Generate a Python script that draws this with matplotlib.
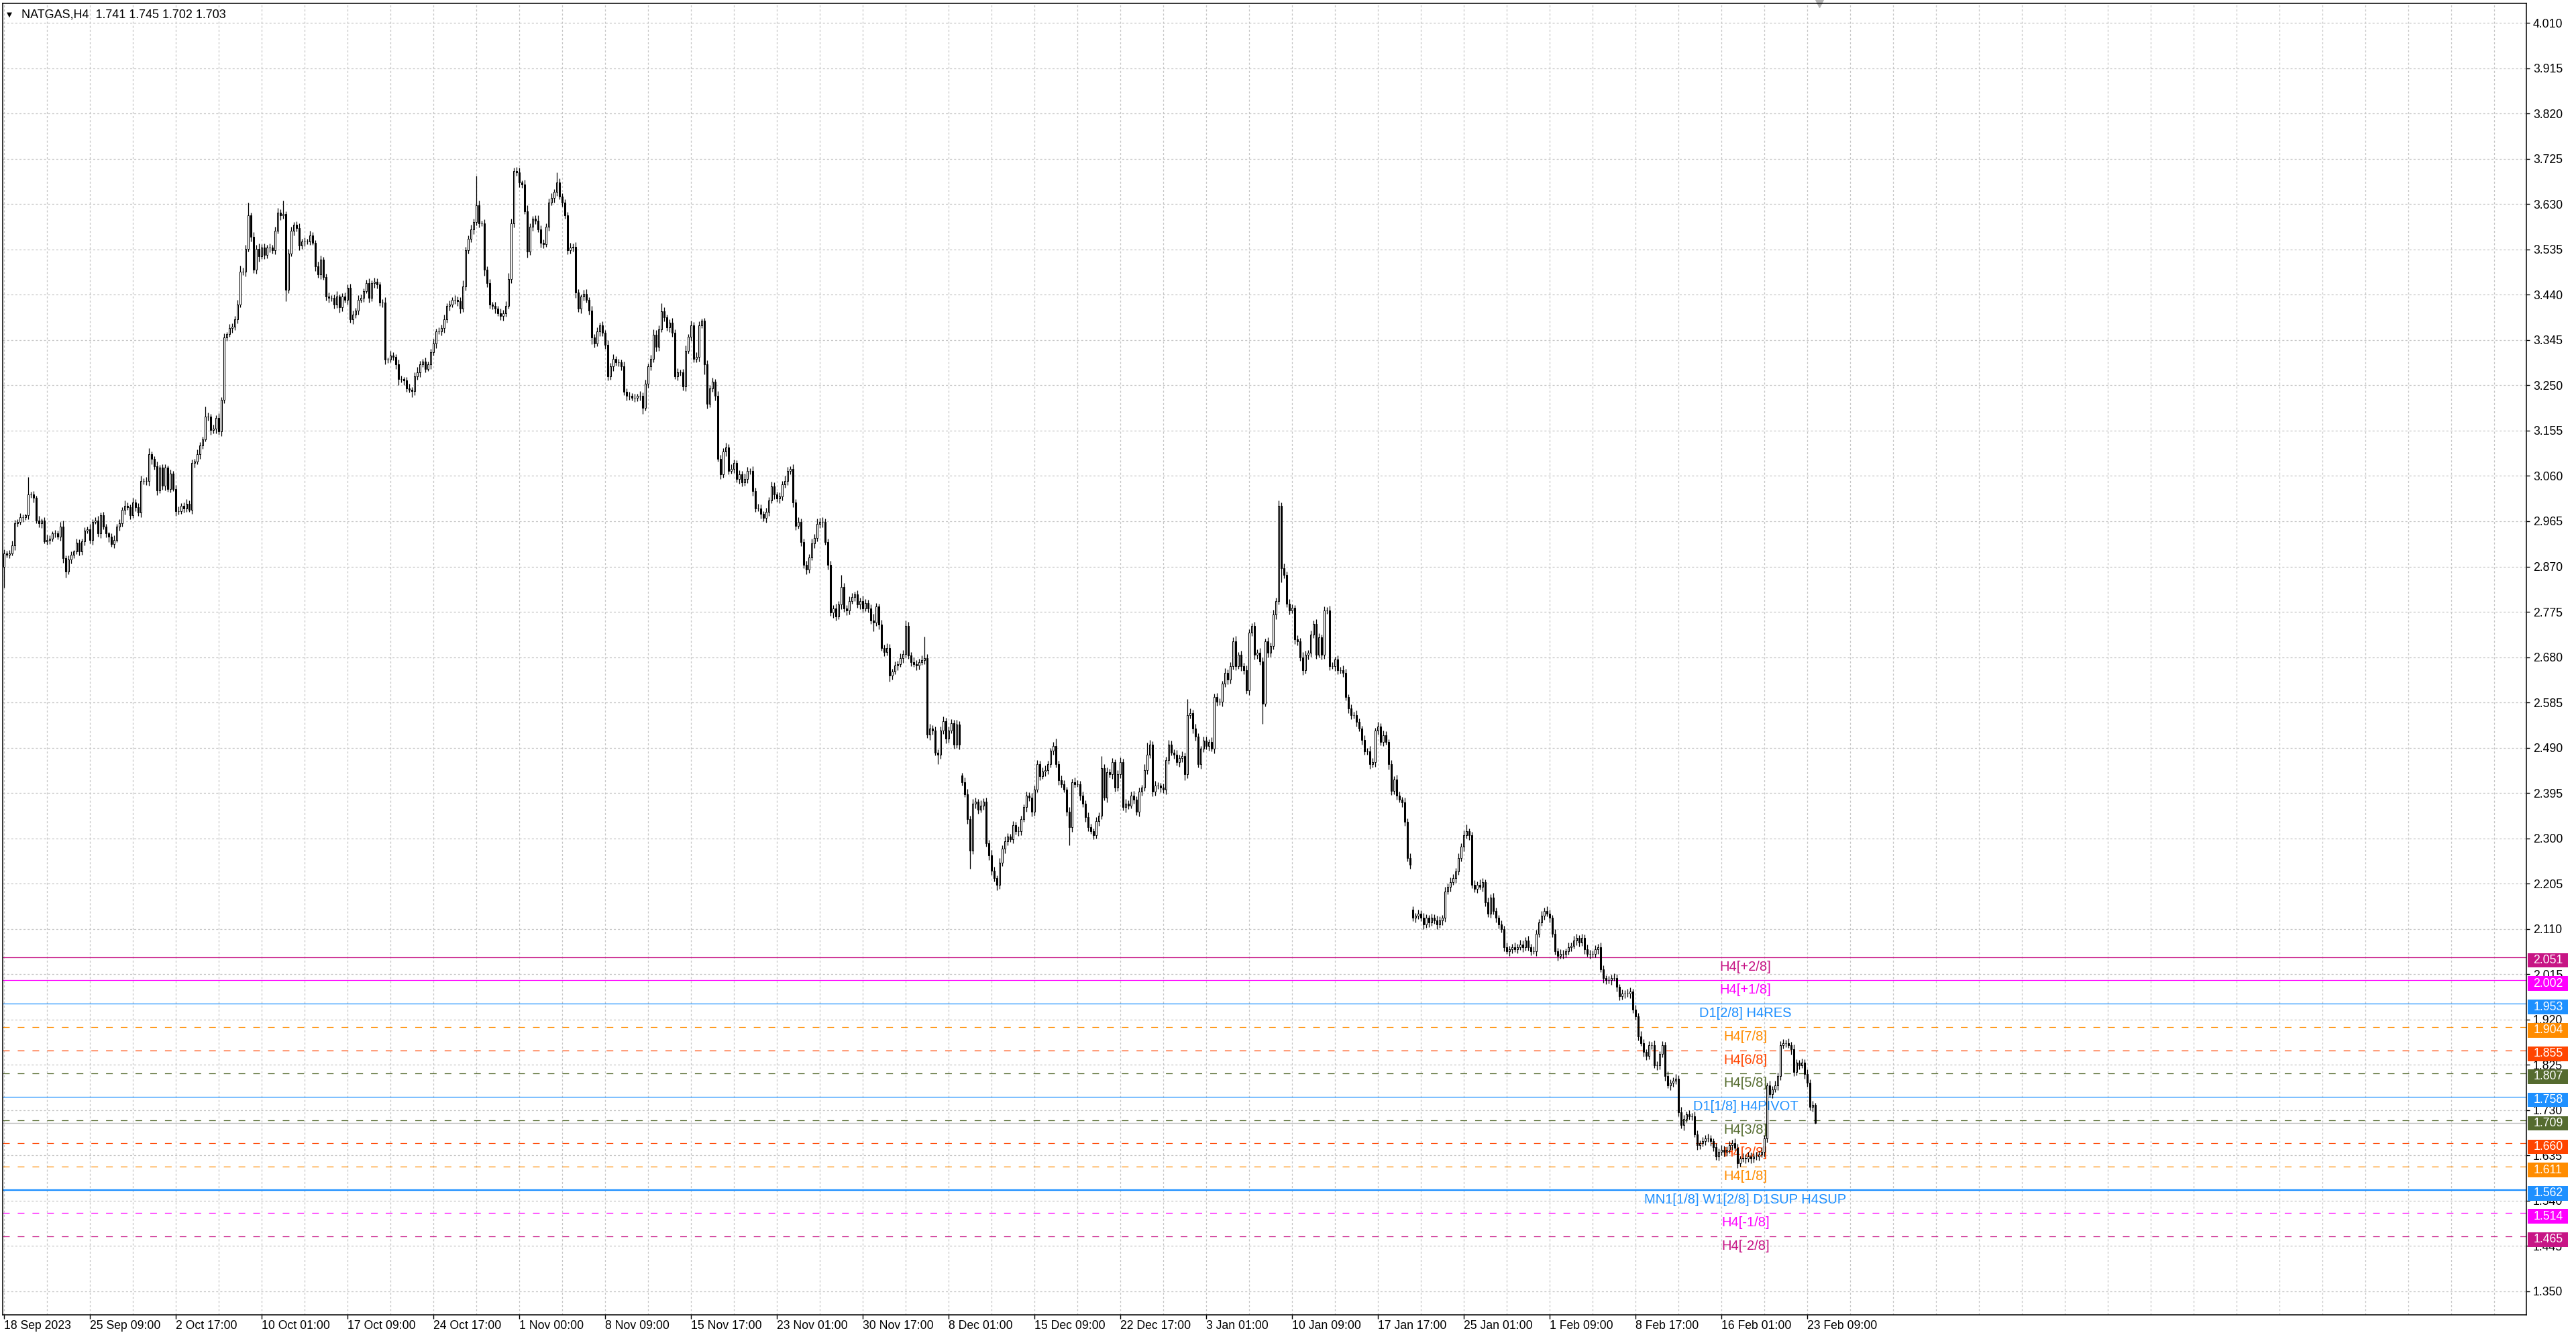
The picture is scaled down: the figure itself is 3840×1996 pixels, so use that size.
import numpy as np
import matplotlib
matplotlib.use('Agg')
import matplotlib.pyplot as plt
from matplotlib.patches import Rectangle
from matplotlib.transforms import blended_transform_factory

plt.rcParams['font.family'] = ['Liberation Sans', 'DejaVu Sans']
plt.rcParams['lines.scale_dashes'] = False

####################
## DATA (H4 bars) ##
####################

# closes, 18 Sep -> 3 Nov 2023
close_a = [
    2.898, 2.895, 2.898, 2.914, 2.961, 2.964, 2.973, 2.973, 2.977, 3.021,
    3.021, 3.014, 2.967, 2.961, 2.967, 2.923, 2.926, 2.929, 2.939, 2.939,
    2.932, 2.954, 2.888, 2.860, 2.885, 2.895, 2.901, 2.920, 2.901, 2.923,
    2.945, 2.948, 2.926, 2.964, 2.967, 2.939, 2.977, 2.954, 2.939, 2.932,
    2.917, 2.926, 2.954, 2.961, 2.989, 2.998, 2.995, 2.977, 3.005, 2.995,
    2.983, 3.049, 3.049, 3.049, 3.105, 3.096, 3.080, 3.030, 3.077, 3.039,
    3.077, 3.033, 3.065, 3.033, 2.986, 2.986, 2.998, 2.992, 3.002, 2.989,
    3.087, 3.090, 3.105, 3.124, 3.137, 3.184, 3.184, 3.156, 3.159, 3.181,
    3.153, 3.219, 3.351, 3.357, 3.370, 3.373, 3.389, 3.420, 3.489, 3.489,
    3.536, 3.606, 3.561, 3.492, 3.536, 3.521, 3.539, 3.524, 3.539, 3.539,
    3.533, 3.574, 3.612, 3.606, 3.609, 3.451, 3.527, 3.574, 3.587, 3.580,
    3.543, 3.552, 3.552, 3.552, 3.565, 3.549, 3.499, 3.483, 3.514, 3.477,
    3.436, 3.433, 3.433, 3.420, 3.436, 3.414, 3.436, 3.429, 3.455, 3.389,
    3.398, 3.407, 3.429, 3.433, 3.448, 3.464, 3.433, 3.464, 3.467, 3.461,
    3.423, 3.423, 3.304, 3.304, 3.313, 3.310, 3.294, 3.263, 3.263, 3.260,
    3.244, 3.241, 3.238, 3.269, 3.278, 3.294, 3.300, 3.285, 3.294, 3.319,
    3.338, 3.363, 3.363, 3.370, 3.389, 3.417, 3.420, 3.429, 3.429, 3.426,
    3.411, 3.458, 3.533, 3.558, 3.577, 3.593, 3.628, 3.590, 3.590, 3.492,
    3.464, 3.420, 3.417, 3.411, 3.401, 3.395, 3.401, 3.417, 3.473, 3.590,
    3.700, 3.697, 3.675, 3.672, 3.615, 3.530, 3.583, 3.599, 3.596, 3.577,
    3.549, 3.546, 3.583, 3.634, 3.643, 3.656, 3.675, 3.646, 3.634, 3.606,
    3.533, 3.539, 3.541, 3.445, 3.411, 3.436, 3.442, 3.429, 3.407, 3.351,
    3.338, 3.363, 3.376,
]
# wick lengths above / below the body, in thousandths
wick_up_a = [
    8, 5, 6, 10, 7, 5, 9, 6, 4, 37,
    6, 8, 5, 9, 4, 7, 11, 6, 5, 8,
    6, 9, 12, 5, 8, 6, 4, 9, 7, 5,
    8, 6, 11, 5, 7, 9, 6, 8, 5, 4,
    7, 9, 5, 8, 6, 10, 7, 5, 9, 6,
    8, 12, 6, 9, 14, 7, 5, 10, 6, 8,
    7, 5, 9, 6, 8, 10, 5, 7, 9, 6,
    8, 6, 10, 7, 5, 22, 9, 6, 8, 7,
    10, 6, 8, 5, 9, 7, 6, 10, 12, 8,
    9, 27, 6, 10, 8, 12, 7, 9, 6, 8,
    5, 9, 10, 7, 28, 6, 9, 8, 5, 7,
    10, 6, 8, 5, 9, 7, 6, 10, 8, 5,
    7, 9, 6, 8, 11, 5, 7, 9, 6, 8,
    9, 6, 10, 7, 5, 8, 11, 6, 9, 7,
    6, 8, 12, 5, 9, 7, 6, 10, 8, 5,
    7, 9, 6, 8, 10, 7, 5, 9, 6, 8,
    10, 6, 8, 7, 9, 5, 8, 6, 10, 7,
    9, 12, 8, 6, 10, 7, 62, 9, 6, 8,
    7, 9, 5, 8, 6, 10, 7, 9, 12, 10,
    6, 8, 10, 5, 9, 12, 7, 6, 8, 10,
    9, 7, 6, 8, 10, 5, 22, 9, 7, 6,
    8, 10, 6, 9, 7, 5, 8, 10, 6, 9,
    7, 9, 6,
]
wick_dn_a = [
    44, 6, 8, 5, 9, 7, 6, 10, 5, 8,
    7, 9, 6, 8, 10, 5, 7, 9, 6, 8,
    5, 8, 10, 13, 6, 9, 7, 5, 8, 6,
    9, 6, 8, 10, 5, 7, 9, 6, 8, 10,
    6, 8, 5, 9, 7, 10, 6, 8, 5, 9,
    7, 10, 6, 8, 9, 12, 7, 10, 6, 8,
    9, 6, 8, 5, 10, 7, 6, 9, 8, 5,
    8, 10, 6, 9, 7, 5, 8, 10, 6, 9,
    7, 9, 6, 8, 5, 10, 7, 9, 6, 8,
    10, 6, 9, 7, 8, 12, 6, 9, 7, 10,
    6, 8, 5, 9, 7, 25, 8, 6, 10, 7,
    9, 7, 10, 6, 8, 5, 9, 7, 10, 6,
    8, 10, 6, 9, 7, 12, 8, 6, 9, 7,
    10, 7, 9, 6, 8, 5, 10, 7, 9, 8,
    6, 9, 10, 7, 5, 8, 9, 13, 7, 10,
    8, 6, 13, 9, 7, 10, 6, 8, 5, 9,
    7, 10, 6, 8, 9, 7, 10, 6, 8, 9,
    10, 7, 9, 6, 8, 10, 7, 9, 6, 12,
    8, 9, 7, 10, 6, 8, 9, 7, 6, 8,
    9, 7, 10, 8, 6, 12, 7, 9, 8, 6,
    10, 8, 6, 9, 7, 10, 8, 6, 9, 7,
    8, 6, 9, 12, 7, 10, 8, 6, 9, 15,
    8, 6, 9,
]

# 3 Nov -> 5 Jan
close_b = [
    3.360, 3.335, 3.269, 3.290, 3.306, 3.298, 3.298, 3.290, 3.236, 3.228,
    3.228, 3.224, 3.224, 3.228, 3.228, 3.203, 3.253, 3.290, 3.306, 3.356,
    3.331, 3.368, 3.405, 3.393, 3.372, 3.381, 3.360, 3.269, 3.277, 3.277,
    3.248, 3.323, 3.352, 3.376, 3.306, 3.310, 3.376, 3.385, 3.294, 3.211,
    3.244, 3.257, 3.228, 3.096, 3.063, 3.112, 3.120, 3.071, 3.075, 3.087,
    3.054, 3.063, 3.046, 3.054, 3.071, 3.071, 3.029, 2.992, 2.992, 2.980, 2.972,
    2.984, 3.009, 3.038, 3.021, 3.013, 3.017, 3.042, 3.050, 3.071, 3.075,
    3.005, 2.955, 2.963, 2.922, 2.873, 2.864, 2.889, 2.918, 2.930, 2.959,
    2.963, 2.963, 2.922, 2.873, 2.773, 2.782, 2.765, 2.790, 2.827, 2.782,
    2.778, 2.798, 2.806, 2.811, 2.790, 2.798, 2.782, 2.794, 2.782, 2.757, 2.753,
    2.786, 2.749, 2.699, 2.691, 2.699, 2.641, 2.650, 2.662, 2.666, 2.678,
    2.687, 2.745, 2.683, 2.670, 2.666, 2.662, 2.670, 2.674, 2.678, 2.517, 2.530,
    2.526, 2.480, 2.476, 2.526, 2.546, 2.509, 2.526, 2.542, 2.497, 2.538,
    2.497, 2.418, 2.393, 2.340, 2.274, 2.373, 2.377, 2.360, 2.369, 2.377,
    2.290, 2.265, 2.232, 2.216, 2.203, 2.249, 2.278, 2.294, 2.303, 2.298,
    2.327, 2.315, 2.315, 2.340, 2.365, 2.389, 2.385, 2.356, 2.402, 2.455,
    2.431, 2.440, 2.443, 2.455, 2.484, 2.493, 2.455, 2.422, 2.414, 2.402, 2.356,
    2.323, 2.418, 2.414, 2.414, 2.389, 2.373, 2.344, 2.323, 2.315, 2.307,
    2.336, 2.348, 2.447, 2.385, 2.439, 2.435, 2.460, 2.406, 2.435, 2.460,
    2.365, 2.373, 2.369, 2.390, 2.381, 2.356, 2.398, 2.406, 2.443, 2.476, 2.497,
    2.398, 2.410, 2.410, 2.406, 2.402, 2.464, 2.497, 2.480, 2.476, 2.460,
    2.468, 2.472, 2.435, 2.559, 2.563, 2.530, 2.513, 2.455, 2.488, 2.505,
]
wick_up_b = [
    8, 6, 10, 7, 9, 5, 8, 6, 10, 7,
    9, 6, 8, 5, 10, 7, 9, 6, 8, 12,
    10, 8, 17, 9, 6, 8, 10, 7, 9, 6,
    8, 10, 6, 9, 7, 10, 8, 5, 6, 9,
    7, 9, 6, 10, 8, 6, 9, 7, 10, 8,
    6, 9, 7, 11, 8, 5, 9, 7, 10, 8, 6,
    9, 7, 10, 8, 6, 9, 7, 11, 8, 5,
    9, 7, 10, 8, 6, 9, 7, 10, 8, 12,
    9, 10, 8, 6, 9, 7, 10, 8, 25, 9,
    7, 10, 8, 6, 9, 7, 11, 8, 6, 9, 14,
    8, 6, 9, 7, 10, 8, 6, 9, 7, 10,
    8, 12, 9, 7, 10, 8, 6, 9, 45, 8, 10,
    7, 9, 6, 8, 10, 7, 9, 8, 6, 10,
    8, 6, 9, 10, 7, 9, 8, 6, 10, 7,
    9, 7, 10, 8, 6, 9, 7, 10, 8, 6,
    9, 7, 10, 8, 6, 9, 7, 10, 8, 9,
    7, 9, 10, 8, 6, 9, 16, 7, 10, 8, 6,
    9, 7, 10, 8, 6, 9, 7, 10, 8, 6,
    9, 7, 25, 8, 10, 7, 9, 6, 8, 10,
    7, 9, 6, 8, 10, 7, 9, 6, 12, 24, 9,
    7, 10, 8, 6, 9, 7, 10, 8, 6, 9,
    7, 10, 8, 33, 9, 7, 10, 8, 6, 9,
]
wick_dn_b = [
    6, 9, 8, 7, 10, 6, 8, 9, 7, 10,
    8, 6, 9, 7, 10, 13, 6, 8, 9, 7,
    10, 8, 6, 9, 7, 10, 8, 6, 9, 7,
    8, 10, 6, 9, 7, 8, 10, 6, 21, 9,
    7, 8, 10, 6, 9, 7, 10, 8, 6, 9,
    7, 10, 8, 6, 9, 7, 10, 8, 6, 9, 7,
    10, 8, 6, 9, 7, 10, 8, 6, 9, 7,
    10, 8, 6, 9, 7, 10, 8, 6, 9, 7,
    8, 10, 6, 9, 7, 10, 8, 6, 9, 7,
    10, 8, 6, 9, 7, 10, 8, 6, 9, 7, 19,
    8, 10, 6, 9, 7, 12, 8, 6, 9, 7,
    10, 8, 6, 9, 7, 10, 8, 6, 9, 7, 10,
    8, 6, 21, 9, 7, 10, 8, 6, 9, 7,
    10, 8, 6, 9, 38, 7, 10, 8, 6, 9,
    7, 10, 8, 6, 12, 9, 7, 10, 8, 6,
    9, 7, 10, 8, 6, 9, 7, 10, 8, 6,
    9, 7, 10, 8, 6, 9, 7, 10, 8, 6, 9,
    37, 10, 8, 6, 9, 7, 10, 8, 6, 9,
    7, 10, 8, 6, 9, 7, 10, 8, 6, 9,
    7, 10, 8, 6, 9, 7, 10, 8, 6, 9, 7,
    10, 8, 6, 9, 7, 10, 8, 6, 9, 7,
    10, 8, 13, 9, 7, 10, 8, 6, 9, 7,
]

# 5 Jan -> 23 Feb 2024
close_c = [
    2.493, 2.502, 2.488, 2.596, 2.586, 2.586, 2.624, 2.647, 2.633, 2.661,
    2.713, 2.661, 2.685, 2.661, 2.652, 2.610, 2.731, 2.745, 2.685, 2.689,
    2.671, 2.582, 2.713, 2.689, 2.703, 2.769, 2.797, 2.998, 2.867, 2.853,
    2.792, 2.778, 2.783, 2.717, 2.713, 2.680, 2.652, 2.685, 2.689, 2.727,
    2.750, 2.685, 2.722, 2.685, 2.778, 2.778, 2.661, 2.661, 2.675, 2.652,
    2.652, 2.647, 2.596, 2.572, 2.558, 2.558, 2.544, 2.530, 2.507, 2.483, 2.483,
    2.455, 2.460, 2.526, 2.535, 2.502, 2.516, 2.502, 2.455, 2.399, 2.423,
    2.390, 2.381, 2.376, 2.334, 2.259, 2.245, 2.133, 2.138, 2.142, 2.133,
    2.119, 2.133, 2.124, 2.133, 2.128, 2.119, 2.128, 2.133, 2.189, 2.198, 2.208,
    2.217, 2.231, 2.259, 2.282, 2.306, 2.315, 2.306, 2.203, 2.194, 2.203,
    2.198, 2.208, 2.166, 2.142, 2.175, 2.147, 2.133, 2.119, 2.110, 2.072,
    2.063, 2.067, 2.072, 2.068, 2.072, 2.077, 2.072, 2.086, 2.072, 2.063, 2.063,
    2.100, 2.124, 2.138, 2.147, 2.142, 2.133, 2.100, 2.063, 2.053, 2.058,
    2.058, 2.063, 2.072, 2.075, 2.086, 2.091, 2.081, 2.091, 2.067, 2.058, 2.058,
    2.058, 2.067, 2.072, 2.025, 2.007, 2.002, 2.002, 2.007, 2.007, 1.988,
    1.969, 1.974, 1.974, 1.974, 1.979, 1.941, 1.927, 1.885, 1.871, 1.852,
    1.843, 1.866, 1.866, 1.824, 1.824, 1.848, 1.866, 1.801, 1.782, 1.787,
    1.792, 1.796, 1.726, 1.698, 1.712, 1.721, 1.717, 1.717, 1.679, 1.656,
    1.661, 1.665, 1.670, 1.670, 1.665, 1.652, 1.633, 1.642, 1.647, 1.642, 1.647,
    1.656, 1.661, 1.651, 1.619, 1.628, 1.630, 1.628, 1.633, 1.628, 1.633, 1.633,
    1.637, 1.642, 1.670, 1.782, 1.764, 1.773, 1.782, 1.801, 1.866, 1.871,
    1.871, 1.866, 1.857, 1.810, 1.829, 1.824, 1.829, 1.806, 1.787, 1.736,
    1.741, 1.703,
]
wick_up_c = [
    8, 6, 10, 7, 9, 8, 6, 10, 7, 9,
    8, 12, 6, 9, 7, 10, 8, 6, 9, 7,
    10, 8, 6, 9, 7, 10, 8, 11, 6, 9,
    7, 10, 8, 6, 9, 7, 11, 8, 6, 9,
    7, 10, 8, 5, 9, 7, 10, 8, 6, 9,
    7, 10, 8, 6, 9, 7, 10, 8, 6, 9, 7,
    10, 8, 6, 9, 7, 10, 8, 6, 9, 7,
    10, 8, 6, 9, 7, 10, 8, 6, 9, 7,
    10, 8, 6, 9, 7, 10, 8, 6, 9, 7, 10,
    8, 6, 9, 7, 10, 14, 6, 8, 9, 7,
    10, 8, 6, 9, 7, 10, 8, 6, 9, 7,
    10, 8, 6, 9, 7, 10, 8, 6, 9, 7, 10,
    8, 6, 9, 7, 10, 8, 6, 9, 7, 10,
    8, 6, 9, 7, 10, 8, 6, 9, 7, 10, 8,
    6, 9, 7, 10, 8, 6, 9, 7, 10, 8,
    6, 9, 7, 10, 8, 6, 9, 7, 10, 8,
    6, 9, 7, 10, 8, 6, 9, 7, 10, 8,
    6, 9, 7, 10, 8, 6, 9, 7, 10, 8,
    6, 9, 7, 10, 8, 6, 9, 7, 10, 8, 6,
    9, 7, 10, 8, 6, 9, 7, 10, 8, 6, 9,
    7, 10, 8, 6, 9, 7, 10, 8, 9, 8,
    6, 9, 7, 10, 8, 6, 9, 7, 10, 8,
    9, 4,
]
wick_dn_c = [
    7, 9, 6, 10, 8, 7, 9, 6, 10, 8,
    7, 9, 6, 10, 8, 7, 9, 6, 10, 8,
    7, 42, 6, 10, 8, 7, 9, 6, 30, 8,
    7, 9, 6, 10, 8, 7, 9, 6, 10, 8,
    7, 9, 6, 10, 8, 7, 9, 6, 10, 8,
    7, 9, 6, 10, 8, 7, 9, 6, 10, 8, 7,
    9, 6, 10, 8, 7, 9, 6, 10, 8, 7,
    9, 6, 10, 8, 7, 9, 6, 10, 8, 7,
    9, 6, 10, 8, 7, 9, 6, 10, 8, 7, 9,
    6, 10, 8, 7, 9, 6, 10, 8, 7, 9,
    6, 10, 8, 7, 9, 6, 10, 8, 7, 9,
    6, 10, 8, 7, 9, 6, 10, 8, 7, 9, 6,
    10, 8, 7, 9, 6, 10, 8, 7, 9, 6,
    10, 8, 7, 9, 6, 10, 8, 7, 9, 6, 10,
    8, 7, 9, 6, 10, 8, 7, 9, 6, 10,
    8, 7, 9, 6, 10, 8, 7, 9, 6, 10,
    8, 7, 9, 6, 10, 8, 7, 9, 6, 10,
    8, 7, 9, 6, 10, 8, 7, 9, 6, 10,
    8, 7, 9, 6, 10, 8, 7, 9, 6, 10, 8,
    7, 9, 6, 10, 8, 7, 9, 6, 10, 8, 7,
    9, 6, 10, 8, 7, 9, 6, 10, 8, 7,
    9, 6, 10, 8, 7, 9, 6, 10, 8, 7,
    9, 1,
]

first_open = 2.870
gap_bar = [357, 525]          # weekend gaps, open not equal to previous close
gap_open = [2.432, 2.150]

x_labels = ['18 Sep 2023', '25 Sep 09:00', '2 Oct 17:00', '10 Oct 01:00', '17 Oct 09:00',
            '24 Oct 17:00', '1 Nov 00:00', '8 Nov 09:00', '15 Nov 17:00', '23 Nov 01:00',
            '30 Nov 17:00', '8 Dec 01:00', '15 Dec 09:00', '22 Dec 17:00', '3 Jan 01:00',
            '10 Jan 09:00', '17 Jan 17:00', '25 Jan 01:00', '1 Feb 09:00', '8 Feb 17:00',
            '16 Feb 01:00', '23 Feb 09:00']
bars_per_label = 32

# murrey math levels
level_price = [2.051, 2.002, 1.953, 1.904, 1.855, 1.807, 1.758, 1.709, 1.660, 1.611, 1.562, 1.514, 1.465]
level_name = ['H4[+2/8]', 'H4[+1/8]', 'D1[2/8] H4RES', 'H4[7/8]', 'H4[6/8]', 'H4[5/8]',
              'D1[1/8] H4PIVOT', 'H4[3/8]', 'H4[2/8]', 'H4[1/8]',
              'MN1[1/8] W1[2/8] D1SUP H4SUP', 'H4[-1/8]', 'H4[-2/8]']
level_color = ['#C71585', '#FF00FF', '#1E90FF', '#FF8C00', '#FF4500', '#556B2F', '#1E90FF',
               '#556B2F', '#FF4500', '#FF8C00', '#1E90FF', '#FF00FF', '#C71585']
level_dashed = [False, False, False, True, True, True, False, True, True, True, False, True, True]
level_width = [0.9, 0.9, 0.9, 0.9, 0.9, 0.9, 0.9, 0.9, 0.9, 0.9, 1.7, 0.9, 0.9]
bid_price = 1.703
title = 'NATGAS,H4  1.741 1.745 1.702 1.703'

#####################
## BUILD OHLC BARS ##
#####################

close = np.array(close_a + close_b + close_c)
n = len(close)
x = np.arange(n)
opn = np.concatenate([[first_open], close[:-1]])
opn[gap_bar] = gap_open
up = np.array(wick_up_a + wick_up_b + wick_up_c)[:n] / 1000.0
dn = np.array(wick_dn_a + wick_dn_b + wick_dn_c)[:n] / 1000.0
high = np.maximum(opn, close) + up
low = np.minimum(opn, close) - dn

##########
## PLOT ##
##########

W, H = 3840, 1996
fig = plt.figure(figsize=(W / 100, H / 100), dpi=100)
ax = fig.add_axes([4 / W, 1 - 1960 / H, (3766 - 4) / W, (1960 - 5) / H])
ax.set_xlim(-0.5, 940)
ax.set_ylim(1.3005, 4.0512)

# axes / grid
yt = np.round(4.010 - 0.095 * np.arange(29), 3)
ax.set_yticks(yt, [f'{v:.3f}' for v in yt])
ax.yaxis.tick_right()
ax.tick_params(axis='y', length=3.6, width=1.0, pad=3.6, labelsize=12.7, colors='black')
xt = np.arange(len(x_labels)) * bars_per_label
ax.set_xticks(xt, x_labels)
for t in ax.get_xticklabels():
    t.set_horizontalalignment('left')
ax.set_xticks(np.arange(0, 940, bars_per_label // 2), minor=True)
ax.tick_params(axis='x', which='major', length=4.3, width=1.0, pad=1.5, labelsize=12.7)
ax.tick_params(axis='x', which='minor', length=0)
grid_kw = dict(color='#c6c6c6', lw=0.9, ls=(0, (2.2, 2.2)))
ax.grid(True, which='both', axis='x', **grid_kw)
ax.grid(True, which='major', axis='y', **grid_kw)
ax.set_axisbelow(True)
for s in ax.spines.values():
    s.set_color('black')
    s.set_linewidth(1.1)

# levels
blend_y = blended_transform_factory(ax.transAxes, ax.transData)
label_x = 649
for p, name, c, dashed, lw in zip(level_price, level_name, level_color, level_dashed, level_width):
    ls = (0, (7.2, 8.6)) if dashed else '-'
    ax.axhline(p, color=c, lw=lw, ls=ls, zorder=1.5)
    ax.annotate(name, xy=(label_x, p), xytext=(0, -3.6), textcoords='offset points',
                ha='center', va='top', color=c, fontsize=14.5, zorder=1.6)
    ax.add_patch(Rectangle((1.00053, p - 0.0220), 0.01595, 0.0304, transform=blend_y,
                           facecolor=c, edgecolor='none', clip_on=False, zorder=6))
    ax.text(1.0027, p - 0.0068, f'{p:.3f}', transform=blend_y, color='white',
            ha='left', va='center', fontsize=12.7, clip_on=False, zorder=7)
ax.axhline(bid_price, color='#c0c0c0', lw=1.0, zorder=1.4)

# candles
ax.vlines(x, low, high, color='black', lw=0.9, zorder=3)
bull = close >= opn
ax.bar(x, np.abs(close - opn), bottom=np.minimum(opn, close), width=0.72,
       color=np.where(bull, 'white', 'black'), edgecolor='black', linewidth=0.75, zorder=4)

# chart shift marker and title
ax.plot([n + 0.5], [1.0], marker='v', ms=8, color='#b4b4b4',
        transform=blended_transform_factory(ax.transData, ax.transAxes), clip_on=False)
fig.text(9.6 / W, 1 - 22 / H, '\u25bc', fontsize=7.5, family='DejaVu Sans', va='center', ha='left')
fig.text(32 / W, 1 - 22 / H, title, fontsize=13, va='center', ha='left')

fig.savefig('out.png', dpi=100)
